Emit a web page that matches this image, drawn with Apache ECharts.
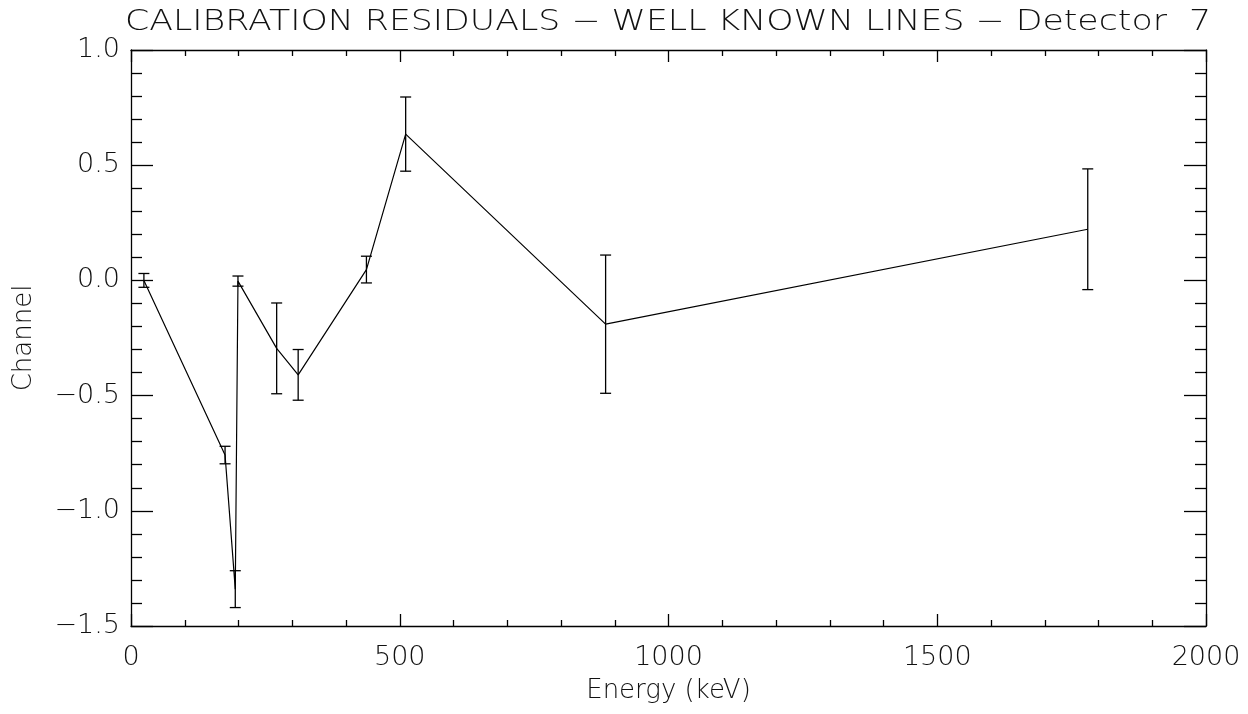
<!DOCTYPE html>
<html>
<head>
<meta charset="utf-8">
<script src="https://cdn.jsdelivr.net/npm/echarts@6/dist/echarts.min.js"></script>
<style>
  html, body { margin: 0; padding: 0; background: #fff; }
  #chart { width: 1248px; height: 714px; }
</style>
</head>
<body>
<div id="chart"></div>
<script>
// Calibration residuals of well known gamma lines, detector 7
const energies  = [24, 175, 194, 199, 271, 311, 438, 511, 883, 1780];      // keV
const residuals = [0.00, -0.758, -1.34, -0.003, -0.295, -0.41, 0.047, 0.635, -0.19, 0.222]; // channel
const errors    = [0.03, 0.038, 0.08, 0.022, 0.197, 0.11, 0.058, 0.161, 0.30, 0.262];

const xTicks = { min: 0, max: 2000, interval: 500 };
const yTicks = { min: -1.5, max: 1.0, interval: 0.5 };

const TITLE = 'CALIBRATION RESIDUALS \u2212 WELL KNOWN LINES \u2212 Detector  7';
const FONT = 'DejaVu Sans';
const lineData = energies.map((e, i) => [e, residuals[i]]);
const errData = energies.map((e, i) => [e, residuals[i] - errors[i], residuals[i] + errors[i]]);

const chart = echarts.init(document.getElementById('chart'), null, { renderer: 'canvas' });

const labelStyle = { color: '#111', fontFamily: FONT, fontWeight: 200, fontSize: 27 };
const nameStyle = { color: '#111', fontFamily: FONT, fontWeight: 200, fontSize: 26 };

function axisCommon(showLabel, tickLen, minorLen) {
  return {
    axisLine: { show: true, onZero: false, lineStyle: { color: '#000', width: 1.3 } },
    axisTick: { show: true, inside: true, length: tickLen, lineStyle: { color: '#000', width: 1.3 } },
    minorTick: { show: true, splitNumber: 5, length: minorLen, lineStyle: { color: '#000', width: 1.3 } },
    splitLine: { show: false },
    axisLabel: Object.assign({ show: showLabel }, labelStyle)
  };
}

chart.setOption({
  animation: false,
  backgroundColor: '#fff',
  graphic: [{
    type: 'text', x: 668, y: 9, scaleX: 1.24, scaleY: 1,
    style: {
      text: TITLE, align: 'center', verticalAlign: 'top',
      fill: '#111', fontFamily: FONT, fontWeight: 200, fontSize: 28
    }
  }],
  grid: { left: 131, right: 42, top: 50, bottom: 88, containLabel: false },
  xAxis: [
    Object.assign({
      type: 'value', position: 'bottom', min: xTicks.min, max: xTicks.max, interval: xTicks.interval,
      name: 'Energy (keV)', nameLocation: 'middle', nameGap: 52, nameTextStyle: nameStyle
    }, axisCommon(true, 12, 6), {
      axisLabel: Object.assign({ show: true, margin: 18, formatter: v => String(v) }, labelStyle)
    }),
    Object.assign({
      type: 'value', position: 'top', min: xTicks.min, max: xTicks.max, interval: xTicks.interval
    }, axisCommon(false, 12, 6))
  ],
  yAxis: [
    Object.assign({
      type: 'value', position: 'left', min: yTicks.min, max: yTicks.max, interval: yTicks.interval,
      name: 'Channel', nameLocation: 'middle', nameGap: 94, nameRotate: 90, nameTextStyle: nameStyle
    }, axisCommon(true, 22, 11), {
      axisLabel: Object.assign({
        show: true, margin: 11,
        formatter: v => (v < 0 ? '\u2212' : '') + Math.abs(v).toFixed(1)
      }, labelStyle)
    }),
    Object.assign({
      type: 'value', position: 'right', min: yTicks.min, max: yTicks.max, interval: yTicks.interval
    }, axisCommon(false, 22, 11))
  ],
  series: [
    {
      type: 'line', data: lineData, symbol: 'none',
      lineStyle: { color: '#000', width: 1.2 }, z: 3
    },
    {
      type: 'custom', data: errData, z: 4,
      encode: { x: 0, y: [1, 2] },
      renderItem: function (params, api) {
        const x = api.value(0);
        const lo = api.coord([x, api.value(1)]);
        const hi = api.coord([x, api.value(2)]);
        const cap = 5.5;
        const style = { stroke: '#000', lineWidth: 1.3 };
        return {
          type: 'group',
          children: [
            { type: 'line', shape: { x1: lo[0], y1: lo[1], x2: hi[0], y2: hi[1] }, style },
            { type: 'line', shape: { x1: lo[0] - cap, y1: lo[1], x2: lo[0] + cap, y2: lo[1] }, style },
            { type: 'line', shape: { x1: hi[0] - cap, y1: hi[1], x2: hi[0] + cap, y2: hi[1] }, style }
          ]
        };
      }
    }
  ]
});
</script>
</body>
</html>
